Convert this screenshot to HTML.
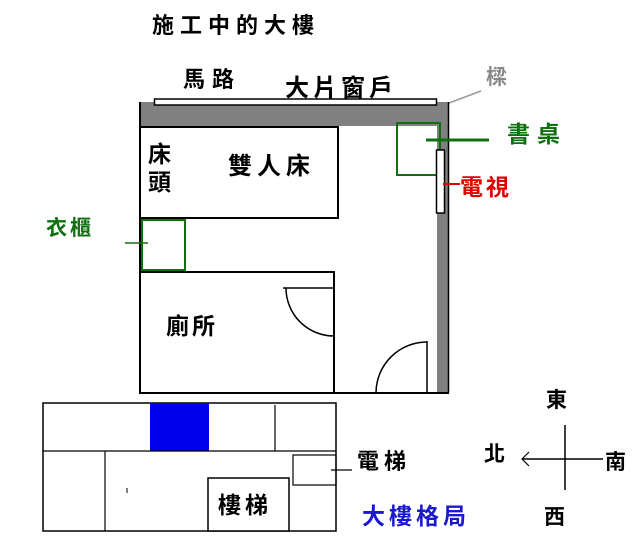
<!DOCTYPE html>
<html><head><meta charset="utf-8"><style>
html,body{margin:0;padding:0;background:#fff;}
svg text{font-family:"Liberation Sans","Noto Sans CJK TC",sans-serif;font-weight:bold;}
</style></head><body>
<svg width="643" height="542" viewBox="0 0 643 542" xmlns="http://www.w3.org/2000/svg">
<rect width="643" height="542" fill="#fff"/>
<text x="152" y="33" font-size="22" letter-spacing="6">施工中的大樓</text>
<text x="183" y="87" font-size="22" letter-spacing="7">馬路</text>
<text x="285" y="96" font-size="24" letter-spacing="4">大片窗戶</text>
<text x="486" y="84" font-size="21" fill="#888">樑</text>
<line x1="449" y1="103" x2="481" y2="91" stroke="#999" stroke-width="1.5"/>
<!-- walls -->
<rect x="140" y="102" width="309" height="24" fill="#808080"/>
<rect x="437" y="102" width="12" height="291" fill="#808080"/>
<line x1="448.5" y1="102" x2="448.5" y2="393" stroke="#000" stroke-width="1.5"/>
<rect x="154.5" y="99" width="282" height="6" fill="#fff" stroke="#000" stroke-width="1.5"/>
<line x1="140" y1="102" x2="140" y2="393" stroke="#000" stroke-width="2"/>
<line x1="140" y1="393" x2="449" y2="393" stroke="#000" stroke-width="2"/>
<!-- bed -->
<rect x="140" y="127" width="198" height="91" fill="#fff" stroke="#000" stroke-width="2"/>
<text x="148" y="162" font-size="23">床</text>
<text x="148" y="190" font-size="23">頭</text>
<text x="228" y="174" font-size="24" letter-spacing="5">雙人床</text>
<!-- wardrobe -->
<rect x="142" y="220" width="43" height="50" fill="none" stroke="#107010" stroke-width="2"/>
<line x1="125" y1="243" x2="148" y2="243" stroke="#107010" stroke-width="1.5"/>
<text x="46" y="235" font-size="21" letter-spacing="3" fill="#107010">衣櫃</text>
<!-- bathroom -->
<rect x="140" y="272" width="194" height="121" fill="none" stroke="#000" stroke-width="2"/>
<line x1="283" y1="288" x2="334" y2="288" stroke="#000" stroke-width="1.5"/>
<path d="M286 288 A48 48 0 0 0 334 336" fill="none" stroke="#000" stroke-width="1.5"/>
<text x="166" y="334" font-size="23" letter-spacing="3">廁所</text>
<path d="M376 393 A51 51 0 0 1 427 342" fill="none" stroke="#000" stroke-width="1.5"/>
<line x1="427" y1="341" x2="427" y2="393" stroke="#000" stroke-width="1.5"/>
<!-- desk & tv -->
<rect x="397" y="123" width="43" height="52" fill="none" stroke="#107010" stroke-width="2"/>
<line x1="426" y1="140" x2="489" y2="140" stroke="#107010" stroke-width="3"/>
<text x="507" y="142" font-size="23" letter-spacing="7" fill="#107010">書桌</text>
<rect x="436.5" y="150" width="8" height="63" fill="#fff" stroke="#000" stroke-width="1.5"/>
<line x1="443" y1="184" x2="460" y2="184" stroke="#e00000" stroke-width="2"/>
<text x="460" y="195" font-size="23" letter-spacing="3" fill="#e00000">電視</text>
<!-- building layout -->
<rect x="43" y="403" width="293" height="128" fill="none" stroke="#000" stroke-width="1.5"/>
<rect x="150" y="403" width="59" height="48" fill="#0000ee"/>
<line x1="43" y1="451" x2="336" y2="451" stroke="#000" stroke-width="1.2"/>
<line x1="275" y1="405" x2="275" y2="451" stroke="#000" stroke-width="1.2"/>
<line x1="105" y1="451" x2="105" y2="531" stroke="#000" stroke-width="1.2"/>
<line x1="127" y1="488" x2="127" y2="493" stroke="#000" stroke-width="1"/>
<rect x="208" y="478" width="81" height="53" fill="#fff" stroke="#000" stroke-width="1.5"/>
<text x="218" y="513" font-size="23" letter-spacing="4">樓梯</text>
<rect x="293" y="455" width="43" height="30" fill="none" stroke="#000" stroke-width="1.2"/>
<line x1="331" y1="470" x2="352" y2="470" stroke="#000" stroke-width="1.2"/>
<text x="357" y="469" font-size="22" letter-spacing="5">電梯</text>
<text x="362" y="524" font-size="23" letter-spacing="4" fill="#1a1acc">大樓格局</text>
<!-- compass -->
<line x1="565" y1="425" x2="565" y2="490" stroke="#000" stroke-width="1.5"/>
<line x1="522" y1="459" x2="603" y2="459" stroke="#000" stroke-width="1.5"/>
<path d="M529 452 L522 459 L529 466" fill="none" stroke="#000" stroke-width="1.2"/>
<text x="546" y="407" font-size="21">東</text>
<text x="484" y="461" font-size="21">北</text>
<text x="605" y="469" font-size="21">南</text>
<text x="544" y="524" font-size="21">西</text>
</svg>
</body></html>
